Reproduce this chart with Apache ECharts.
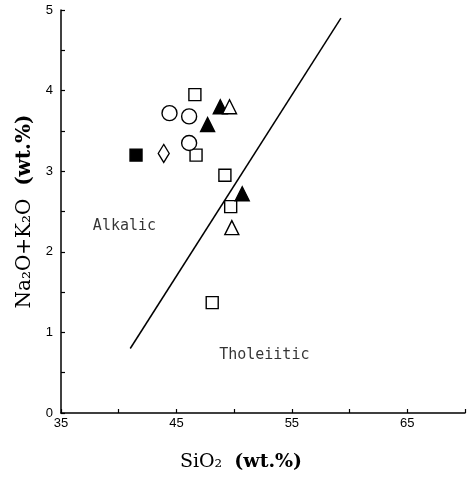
<!DOCTYPE html>
<html>
<head>
<meta charset="utf-8">
<script src="https://cdn.jsdelivr.net/npm/echarts@6/dist/echarts.min.js"></script>
<style>
html,body{margin:0;padding:0;background:#fff;}
#chart{width:468px;height:481px;}
</style>
</head>
<body>
<div id="chart"></div>
<script>
// SiO2 vs Na2O+K2O, points by symbol
var openSquare=[[46.6,3.95],[46.7,3.2],[49.2,2.95],[49.7,2.56],[48.1,1.37]]
var filledSquare=[[41.5,3.2]]
var openCircle=[[44.4,3.72],[46.1,3.68],[46.1,3.35]]
var openDiamond=[[43.9,3.22]]
var filledTri=[[48.8,3.8],[47.7,3.58],[50.7,2.72]]
var openTri=[[49.6,3.8],[49.8,2.3]]
// dividing line alkalic / tholeiitic
var divLine=[[41,0.8],[59.25,4.9]]
var fieldNames=[
	{name:'Alkalic',value:[37.76,2.32]},
	{name:'Tholeiitic',value:[48.7,0.72]}
]
var xLabels=[35,45,55,65]

var mychart=echarts.init(document.getElementById('chart'))
var black='#000'
function pts(data,symbol,size,fill){
	return {
		type:'scatter',
		data:data,
		symbol:symbol,
		symbolSize:size,
		itemStyle:{color:fill?black:'#fff',borderColor:black,borderWidth:1.4,opacity:1},
		silent:true,
		z:3
	}
}
var option={
	animation:false,
	backgroundColor:'#fff',
	grid:{left:61,right:1,top:10,bottom:68,containLabel:false},
	xAxis:{
		type:'value',
		min:35,max:70,interval:5,
		name:'SiO₂  {b|(wt.%)}',
		nameLocation:'middle',
		nameGap:40,
		nameTextStyle:{fontFamily:'DejaVu Serif',fontSize:19,color:black,padding:[0,44,0,0],
			rich:{b:{fontFamily:'DejaVu Serif',fontSize:19,fontWeight:'bold',color:black}}},
		axisLine:{lineStyle:{color:black,width:1.5}},
		axisTick:{inside:true,length:4,lineStyle:{color:black,width:1.2}},
		axisLabel:{
			margin:4,color:black,fontFamily:'Liberation Sans',fontSize:13,
			formatter:function(v){return xLabels.indexOf(v)>=0?String(v):''}
		},
		splitLine:{show:false}
	},
	yAxis:{
		type:'value',
		min:0,max:5,interval:0.5,
		name:'Na₂O+K₂O  {b|(wt.%)}',
		nameLocation:'middle',
		nameGap:26,
		nameTextStyle:{fontFamily:'DejaVu Serif',fontSize:20,color:black,
			rich:{b:{fontFamily:'DejaVu Serif',fontSize:20,fontWeight:'bold',color:black}}},
		axisLine:{lineStyle:{color:black,width:1.5}},
		axisTick:{inside:true,length:4,lineStyle:{color:black,width:1.2}},
		axisLabel:{
			margin:8,color:black,fontFamily:'Liberation Sans',fontSize:13,
			formatter:function(v){return v%1===0?String(v):''}
		},
		splitLine:{show:false}
	},
	series:[
		{
			type:'line',
			data:divLine,
			symbol:'none',
			lineStyle:{color:black,width:1.5},
			silent:true,
			z:2
		},
		pts(openSquare,'rect',12,false),
		pts(filledSquare,'rect',12,true),
		pts(openCircle,'circle',15,false),
		pts(openDiamond,'diamond',[11,18],false),
		pts(filledTri,'triangle',14,true),
		pts(openTri,'triangle',14,false),
		{
			type:'scatter',
			data:fieldNames,
			symbolSize:0,
			silent:true,
			label:{
				show:true,position:'right',distance:0,
				formatter:'{b}',
				color:black,fontFamily:'DejaVu Sans Mono',fontSize:15
			}
		}
	]
}
mychart.setOption(option)
</script>
</body>
</html>
